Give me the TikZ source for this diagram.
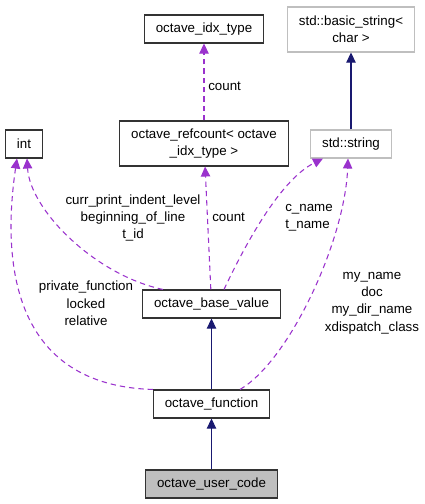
\documentclass[tikz,border=0pt]{standalone}
\usepackage{fontspec}
\setmainfont{Liberation Sans}
\usetikzlibrary{arrows.meta,calc}
\definecolor{navy}{HTML}{191970}
\definecolor{orchid}{HTML}{9A32CD}
\definecolor{frame}{HTML}{BFBFBF}
\definecolor{shade}{HTML}{BFBFBF}
\tikzset{
  cls/.style={rectangle,draw=black!80,line width=0.8pt,fill=white,align=center,inner xsep=8.5pt,inner ysep=0pt,minimum height=21pt,font=\fontsize{10}{12.75}\selectfont},
  clsext/.style={cls,draw=frame},
  clshere/.style={cls,fill=shade},
  derive/.style={-{Triangle[length=7.5pt,width=7pt]},line width=0.8pt,navy},
  member/.style={-{Triangle[length=7.5pt,width=7pt]},line width=0.8pt,orchid,dash pattern=on 4pt off 3pt},
  edgelabel/.style={font=\fontsize{10}{13}\selectfont,align=center,inner sep=0pt}
}

\begin{document}
\begin{tikzpicture}[x=0.75pt,y=-0.75pt]
  \useasboundingbox (0,0) rectangle (425,504);
  % classes
  \node[cls] (idx) at (204,29) {octave\_idx\_type};
  \node[clsext,minimum height=33.75pt] (bstr) at (351,29.5) {std::basic\_string<\\char >};
  \node[cls] (int) at (24,144) {int};
  \node[cls,minimum height=33.75pt] (refc) at (204,143.5) {octave\_refcount< octave\\\_idx\_type >};
  \node[clsext] (sstr) at (351,144) {std::string};
  \node[cls] (base) at (211.5,304) {octave\_base\_value};
  \node[cls] (func) at (211.5,404) {octave\_function};
  \node[clshere] (ucode) at (211.5,484) {octave\_user\_code};

  % inheritance
  \draw[derive] (sstr) -- (bstr);
  \draw[derive] (func) -- (base);
  \draw[derive] (ucode) -- (func);

  % members
  \draw[member] (refc) -- (idx);
  \draw[member] (base) -- (refc);
  \draw[member] ($(base.north)+(-48.5,0)$) .. controls (95,275) and (30,210) .. ($(int.south)+(3,0)$);
  \draw[member] (func.north west) .. controls (0,385) and (5,240) .. ($(int.south)+(-7,0)$);
  \draw[member] ($(base.north)+(12.5,0)$) .. controls (245,245) and (280,180) .. ($(sstr.south)+(-28,0)$);
  \draw[member] ($(func.north)+(28.5,0)$) .. controls (290,360) and (345,240) .. ($(sstr.south)+(-3,0)$);

  % labels
  \node[edgelabel,anchor=west] (lcounta) at (208,86) {count};
  \node[edgelabel,anchor=west] (lcountb) at (212,217) {count};
  \node[edgelabel] (lbaseint) at (133,218) {curr\_print\_indent\_level\\beginning\_of\_line\\t\_id};
  \node[edgelabel,anchor=west,align=left] (lbasestr) at (285,218) {c\_name\\t\_name};
  \node[edgelabel] (lfuncint) at (86,303.5) {private\_function\\locked\\relative};
  \node[edgelabel] (lfuncstr) at (372,303) {my\_name\\doc\\my\_dir\_name\\xdispatch\_class};
\end{tikzpicture}
\end{document}
